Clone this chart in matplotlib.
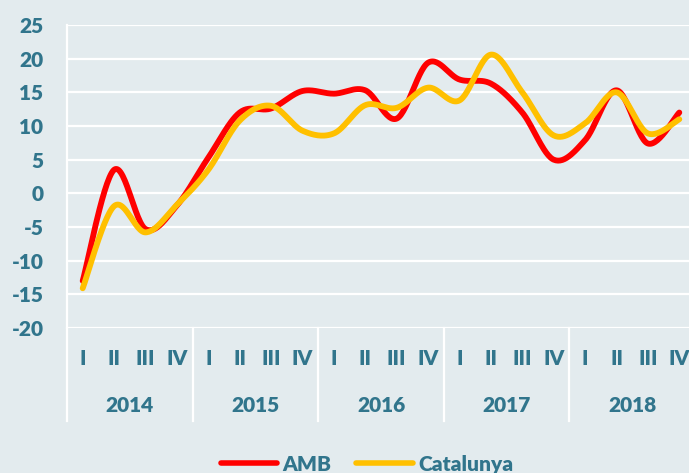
import numpy as np
import matplotlib
matplotlib.use("Agg")
import matplotlib.pyplot as plt
from matplotlib.lines import Line2D
from matplotlib.transforms import blended_transform_factory

# ---- data ----
years = ["2014", "2015", "2016", "2017", "2018"]
quarters = ["I", "II", "III", "IV"]
amb = [-13.0, 3.5, -5.3, -1.8, 5.3, 12.0, 12.6, 15.2, 14.8, 15.3,
       11.1, 19.4, 16.9, 16.3, 12.0, 5.0, 7.9, 15.3, 7.4, 12.0]
catalunya = [-14.1, -1.9, -5.8, -1.7, 3.5, 10.8, 13.0, 9.3, 8.9, 13.1,
             12.7, 15.7, 13.8, 20.6, 15.0, 8.6, 10.4, 15.0, 8.9, 11.0]

BG = "#E3EBEE"
TXT = "#31758C"
RED = "#FF0000"
YEL = "#FFC000"
FONT = "Lato"
WEIGHT = "heavy"

W, H = 689, 473
fig = plt.figure(figsize=(W / 100, H / 100), dpi=100, facecolor=BG)
ax = fig.add_axes([67 / W, (H - 328) / H, 628 / W, 303 / H], facecolor=BG)


def smooth(y, n=30):
    """Excel-style smoothed line (Catmull-Rom Bezier) through the points."""
    y = np.asarray(y, float)
    x = np.arange(len(y), dtype=float)
    P = np.column_stack([x, y])
    Pe = np.vstack([P[0], P, P[-1]])
    out = []
    t = np.linspace(0, 1, n)[:, None]
    for i in range(len(P) - 1):
        p0, p3 = Pe[i + 1], Pe[i + 2]
        c1 = p0 + (Pe[i + 2] - Pe[i]) / 6
        c2 = p3 - (Pe[i + 3] - Pe[i + 1]) / 6
        seg = ((1 - t) ** 3) * p0 + 3 * ((1 - t) ** 2) * t * c1 + 3 * (1 - t) * t ** 2 * c2 + t ** 3 * p3
        out.append(seg if i == 0 else seg[1:])
    s = np.vstack(out)
    return s[:, 0], s[:, 1]


xa, ya = smooth(amb)
xc, yc = smooth(catalunya)
ax.plot(xa, ya, color=RED, lw=4.2, solid_capstyle="round", zorder=3, label="AMB")
ax.plot(xc, yc, color=YEL, lw=4.2, solid_capstyle="round", zorder=4, label="Catalunya")

ax.set_xlim(-0.5, 19.5)
ax.set_ylim(-20, 25)
ax.set_yticks(np.arange(-20, 26, 5))
ax.set_yticklabels([str(v) for v in range(-20, 26, 5)])
ax.yaxis.grid(True, color="white", lw=1.6)
ax.set_axisbelow(True)
ax.set_xticks([])
for s in ["top", "right", "bottom"]:
    ax.spines[s].set_visible(False)
ax.spines["left"].set_color("white")
ax.spines["left"].set_linewidth(1.6)
ax.tick_params(axis="y", length=0, pad=17, labelsize=15, labelcolor=TXT)
for lab in ax.get_yticklabels():
    lab.set_fontfamily(FONT)
    lab.set_fontweight(WEIGHT)

# category axis labels
tr = blended_transform_factory(ax.transData, fig.transFigure)
for yi, yr in enumerate(years):
    for qi, q in enumerate(quarters):
        ax.text(yi * 4 + qi, (H - 358) / H, q, transform=tr, ha="center", va="center",
                fontsize=15, fontweight=WEIGHT, color=TXT, family=FONT)
    ax.text(yi * 4 + 1.5, (H - 405) / H, yr, transform=tr, ha="center", va="center",
            fontsize=15, fontweight=WEIGHT, color=TXT, family=FONT)
for k in range(len(years) + 1):
    fig.add_artist(Line2D([k * 4 - 0.5] * 2, [(H - 328) / H, (H - 421) / H],
                          transform=tr, color="white", lw=1.6))

leg = fig.legend(handles=ax.get_lines(), loc="center", ncol=2,
                 bbox_to_anchor=(367 / W, (H - 464) / H), frameon=False,
                 handlelength=2.7, handletextpad=0.25, columnspacing=1.2,
                 prop={"family": FONT, "weight": WEIGHT, "size": 15})
for t in leg.get_texts():
    t.set_color(TXT)
for l in leg.get_lines():
    l.set_linewidth(4)

fig.savefig("out.png", dpi=100, facecolor=BG)
